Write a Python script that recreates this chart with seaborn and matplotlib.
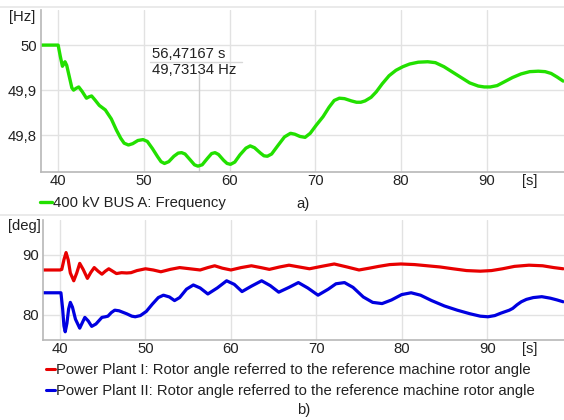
import matplotlib
matplotlib.use("Agg")
import matplotlib.pyplot as plt
from matplotlib.lines import Line2D
import seaborn as sns
import pandas as pd

# ---------------- data ----------------
freq_t = [38.0, 40.0, 40.25, 40.5, 40.65, 40.8, 41.0, 41.3, 41.6, 41.8, 42.1, 42.4, 42.8, 43.3, 43.6, 43.9,
          44.3, 44.8, 45.5, 46.2, 46.8, 47.3, 47.7, 48.2, 48.7, 49.3, 49.9, 50.4, 51.0, 51.6, 52.0, 52.4,
          52.9, 53.5, 54.0, 54.4, 54.8, 55.4, 55.9, 56.3, 56.8, 57.4, 57.9, 58.3, 58.7, 59.3, 59.7, 60.1,
          60.6, 61.2, 61.9, 62.4, 62.9, 63.6, 64.0, 64.4, 64.9, 65.6, 66.4, 67.1, 67.6, 68.2, 68.8, 69.4,
          70.1, 70.9, 71.6, 72.2, 72.8, 73.4, 74.2, 74.8, 75.3, 75.8, 76.5, 77.1, 77.8, 78.6, 79.4, 80.2,
          81.0, 82.0, 83.1, 84.0, 85.0, 86.0, 87.0, 88.0, 89.0, 89.7, 90.4, 91.2, 92.0, 93.0, 94.0, 95.0,
          96.0, 96.8, 97.5, 98.2, 98.9]
freq_hz = [50.0, 50.0, 49.975, 49.953, 49.958, 49.963, 49.955, 49.93, 49.905, 49.900, 49.904, 49.907,
           49.897, 49.882, 49.885, 49.887, 49.878, 49.866, 49.856, 49.836, 49.811, 49.793, 49.782, 49.778,
           49.781, 49.788, 49.790, 49.786, 49.770, 49.752, 49.741, 49.737, 49.741, 49.753, 49.760, 49.761,
           49.758, 49.745, 49.734, 49.731, 49.734, 49.748, 49.759, 49.761, 49.757, 49.744, 49.737, 49.735,
           49.740, 49.756, 49.771, 49.776, 49.772, 49.760, 49.754, 49.753, 49.758, 49.776, 49.796, 49.804,
           49.802, 49.797, 49.795, 49.804, 49.822, 49.841, 49.862, 49.877, 49.882, 49.881, 49.876, 49.873,
           49.873, 49.876, 49.884, 49.896, 49.914, 49.932, 49.944, 49.952, 49.958, 49.962, 49.963, 49.961,
           49.952, 49.940, 49.928, 49.916, 49.909, 49.907, 49.907, 49.910, 49.918, 49.928, 49.936, 49.941,
           49.942, 49.941, 49.937, 49.929, 49.920]

pp1_t = [38.0, 40.0, 40.2, 40.45, 40.7, 40.95, 41.2, 41.6, 41.95, 42.3, 42.7, 43.2, 43.6, 44.0, 44.45, 44.9,
         45.3, 45.7, 46.15, 46.6, 47.2, 47.8, 48.3, 49.0, 50.0, 50.9, 51.8, 52.9, 54.0, 55.2, 56.4, 57.3,
         58.1, 59.0, 60.0, 61.2, 62.4, 63.5, 64.5, 65.7, 66.8, 68.0, 69.2, 70.6, 72.1, 73.6, 75.0, 76.2,
         77.3, 78.6, 79.9, 81.5, 83.0, 84.5, 86.0, 87.6, 89.2, 90.5, 91.8, 93.2, 94.9, 96.5, 97.8, 98.9]
pp1_deg = [87.5, 87.5, 87.6, 89.2, 90.4, 89.2, 87.0, 85.7, 87.0, 88.6, 87.6, 86.1, 87.1, 87.9, 87.3, 86.8,
           87.3, 87.7, 87.3, 86.9, 87.05, 87.0, 87.05, 87.4, 87.7, 87.5, 87.2, 87.6, 87.9, 87.7, 87.5, 87.9,
           88.2, 87.8, 87.5, 87.9, 88.2, 87.9, 87.6, 88.0, 88.3, 88.0, 87.7, 88.1, 88.5, 88.0, 87.5, 87.8,
           88.1, 88.4, 88.5, 88.4, 88.2, 88.0, 87.7, 87.4, 87.3, 87.4, 87.7, 88.1, 88.3, 88.2, 87.9, 87.7]

pp2_t = [38.0, 40.1, 40.3, 40.45, 40.6, 40.8, 41.0, 41.2, 41.45, 41.8, 42.3, 42.6, 42.9, 43.3, 43.7, 44.2,
         44.9, 45.3, 45.6, 46.0, 46.4, 46.9, 47.8, 48.4, 48.8, 49.4, 50.1, 50.8, 51.5, 52.1, 52.8, 53.4,
         54.0, 54.8, 55.6, 56.4, 57.3, 58.4, 59.5, 60.4, 61.3, 62.4, 63.6, 64.6, 65.6, 66.8, 67.9, 69.0,
         70.2, 71.4, 72.3, 73.3, 74.3, 75.5, 76.6, 77.7, 78.8, 80.0, 81.1, 82.2, 83.5, 85.0, 86.5, 88.0,
         89.2, 90.1, 90.9, 91.6, 92.2, 92.6, 93.0, 93.5, 94.0, 94.6, 95.4, 96.4, 97.4, 98.2, 98.9]
pp2_deg = [83.7, 83.7, 81.0, 78.2, 77.2, 78.6, 81.0, 82.1, 81.3, 79.3, 77.8, 78.7, 79.6, 79.0, 78.1, 78.5,
           79.6, 79.7, 79.8, 80.4, 80.8, 80.7, 80.2, 79.8, 79.7, 79.9, 80.6, 81.8, 82.9, 83.3, 83.0, 82.4,
           82.9, 84.3, 85.0, 84.5, 83.5, 84.5, 85.7, 85.1, 83.9, 84.8, 85.7, 84.9, 83.8, 84.6, 85.4, 84.5,
           83.3, 84.3, 85.2, 85.4, 84.6, 83.0, 82.1, 81.9, 82.5, 83.4, 83.7, 83.3, 82.4, 81.5, 80.8, 80.2,
           79.8, 79.7, 79.9, 80.3, 80.6, 80.8, 81.1, 81.7, 82.2, 82.6, 82.9, 83.05, 82.8, 82.5, 82.2]

x_ticks = [40, 50, 60, 70, 80, 90]
freq_ticks = [49.8, 49.9, 50.0]
freq_tick_labels = ["49,8", "49,9", "50"]
deg_ticks = [80, 90]
deg_tick_labels = ["80", "90"]
cursor_t, cursor_f = 56.47167, 49.73134

label_freq = "400 kV BUS A: Frequency"
label_pp1 = "Power Plant I: Rotor angle referred to the reference machine rotor angle"
label_pp2 = "Power Plant II: Rotor angle referred to the reference machine rotor angle"

GREEN = "#22e000"
RED = "#e80000"
BLUE = "#0000e0"

# ---------------- style ----------------
sns.set_style("white")
plt.rcParams["font.family"] = ["Liberation Sans", "DejaVu Sans"]
FS = 10.7
plt.rcParams["font.size"] = FS
TXT = "#222222"

W, H = 564, 420
fig = plt.figure(figsize=(W / 100, H / 100), dpi=100)


def fx(px):
    return px / W


def fy(py):
    return 1 - py / H


ax1 = fig.add_axes([fx(41), fy(172), fx(564 - 41), (172 - 10) / H])
ax2 = fig.add_axes([fx(43), fy(340), fx(564 - 43), (340 - 220) / H])

df_f = pd.DataFrame({"t": freq_t, "f": freq_hz})
df_1 = pd.DataFrame({"t": pp1_t, "deg": pp1_deg})
df_2 = pd.DataFrame({"t": pp2_t, "deg": pp2_deg})

sns.lineplot(data=df_f, x="t", y="f", ax=ax1, color=GREEN, lw=2.4, sort=False, estimator=None)
sns.lineplot(data=df_1, x="t", y="deg", ax=ax2, color=RED, lw=2.3, sort=False, estimator=None)
sns.lineplot(data=df_2, x="t", y="deg", ax=ax2, color=BLUE, lw=2.3, sort=False, estimator=None)

XPAD = 1.5
for ax in (ax1, ax2):
    ax.set_xlim(38, 99)
    ax.set_xticks(x_ticks)
    ax.set_xlabel("")
    ax.set_ylabel("")
    ax.grid(True, color="#e2e2e2", lw=1)
    ax.set_axisbelow(True)
    for s in ("top", "right"):
        ax.spines[s].set_visible(False)
    for s in ("left", "bottom"):
        ax.spines[s].set_color("#b8b8b8")
        ax.spines[s].set_linewidth(1.2)
    ax.tick_params(length=0, labelsize=FS, labelcolor=TXT)
    ax.tick_params(axis="x", pad=XPAD)
    ax.tick_params(axis="y", pad=3)
    ax.annotate("[s]", xy=(95, 0), xycoords=ax.get_xaxis_transform(), xytext=(0, -XPAD),
                textcoords="offset points", ha="center", va="top", fontsize=FS, color=TXT)

ax1.set_ylim(49.718, 50.078)
ax1.set_yticks(freq_ticks)
ax1.set_yticklabels(freq_tick_labels)
ax2.set_ylim(75.83, 95.83)
ax2.set_yticks(deg_ticks)
ax2.set_yticklabels(deg_tick_labels)

# unit labels
fig.text(fx(22), fy(17), "[Hz]", ha="center", va="center", fontsize=FS, color=TXT)
fig.text(fx(24), fy(226), "[deg]", ha="center", va="center", fontsize=FS, color=TXT)

# cursor annotation
ax1.axvline(cursor_t, ymax=(49.935 - 49.718) / (50.078 - 49.718), color="#cfcfcf", lw=1, zorder=1)
fig.text(fx(152), fy(54), "%s s" % f"{cursor_t:.5f}".replace(".", ","), ha="left", va="center",
         fontsize=FS, color=TXT)
fig.text(fx(152), fy(70), "%s Hz" % f"{cursor_f:.5f}".replace(".", ","), ha="left", va="center",
         fontsize=FS, color=TXT)
fig.add_artist(Line2D([fx(150), fx(242)], [fy(62), fy(62)], color="#d8d8d8", lw=1,
                      transform=fig.transFigure))

# separators
for yy in (7, 215):
    fig.add_artist(Line2D([0, 1], [fy(yy), fy(yy)], color="#e6e6e6", lw=1.2, transform=fig.transFigure))

# legends
h_f = Line2D([], [], color=GREEN, lw=2.4)
fig.legend([h_f], [label_freq], loc="center left", bbox_to_anchor=(fx(40), fy(203)), frameon=False,
           fontsize=FS, handlelength=0.8, handletextpad=0.07, borderpad=0, borderaxespad=0,
           labelcolor=TXT)
fig.text(fx(303), fy(204), "a)", ha="center", va="center", fontsize=FS, color=TXT)

h_1 = Line2D([], [], color=RED, lw=2.2)
h_2 = Line2D([], [], color=BLUE, lw=2.2)
fig.legend([h_1, h_2], [label_pp1, label_pp2], loc="center left", bbox_to_anchor=(fx(46), fy(380.5)),
           frameon=False, fontsize=FS, handlelength=0.6, handletextpad=0.07, borderpad=0,
           borderaxespad=0, labelspacing=0.5, labelcolor=TXT)
fig.text(fx(304), fy(410), "b)", ha="center", va="center", fontsize=FS, color=TXT)

fig.savefig("out.png", dpi=100, facecolor="white")
